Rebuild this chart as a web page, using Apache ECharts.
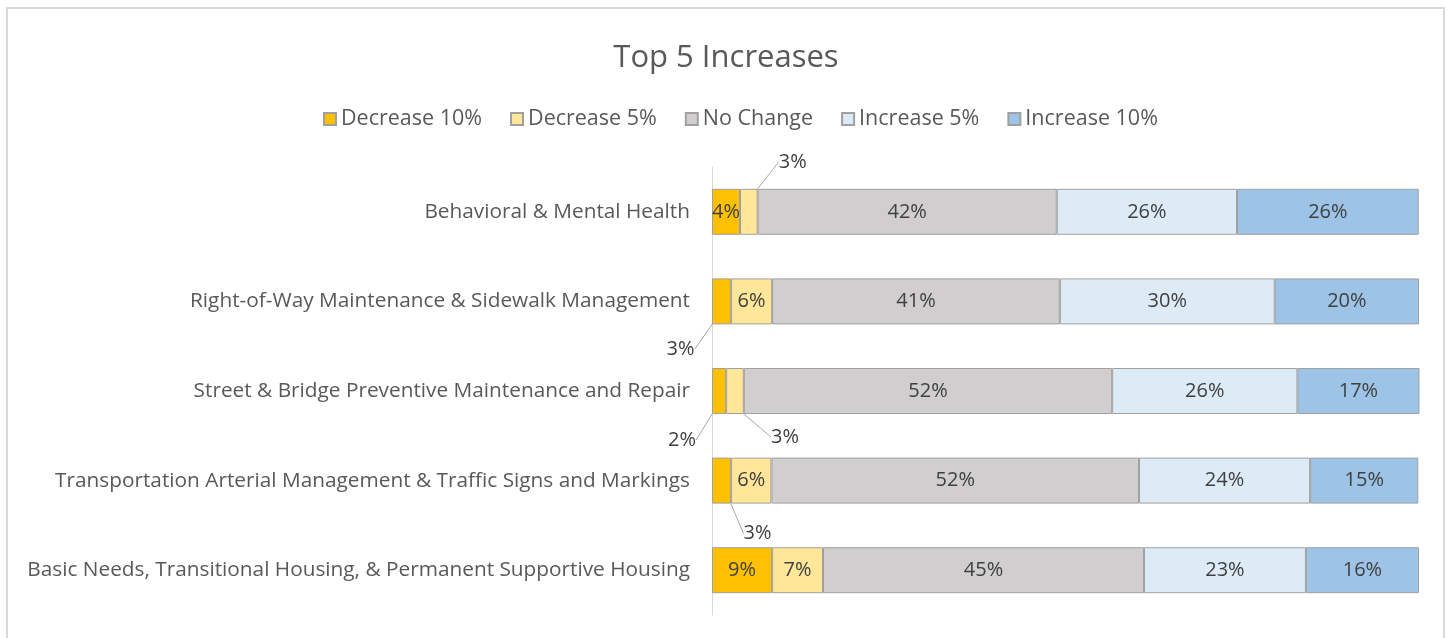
<!DOCTYPE html>
<html lang="en">
<head>
    <meta charset="UTF-8">
    <title>Top 5 Increases</title>
    <style>
        html, body {
            margin: 0;
            padding: 0;
            background: #fff;
        }

        .frame {
            position: absolute;
            left: 6px;
            top: 7px;
            width: 1439px;
            height: 640px;
            border: 2px solid #d9d9d9;
            box-sizing: border-box;
        }

        #chart {
            position: absolute;
            left: 0;
            top: 0;
            width: 1452px;
            height: 638px;
        }
    </style>
</head>
<body>
    <div class="frame"></div>
    <div id="chart"></div>

    <script src="https://cdn.jsdelivr.net/npm/echarts@6/dist/echarts.min.js"></script>
    <script>
        // categories, top to bottom
        const categories = [
            'Behavioral & Mental Health',
            'Right-of-Way Maintenance & Sidewalk Management',
            'Street & Bridge Preventive Maintenance and Repair',
            'Transportation Arterial Management & Traffic Signs and Markings',
            'Basic Needs, Transitional Housing, & Permanent Supportive Housing'
        ];

        const seriesNames = ['Decrease 10%', 'Decrease 5%', 'No Change', 'Increase 5%', 'Increase 10%'];

        // shares in %
        const decrease10 = [3.96, 2.7, 2.0, 2.7, 8.5];
        const decrease5 = [2.5, 5.8, 2.5, 5.7, 7.2];
        const noChange = [42.3, 40.7, 52.1, 52.0, 45.4];
        const increase5 = [25.5, 30.4, 26.2, 24.2, 22.9];
        const increase10 = [25.7, 20.4, 17.3, 15.3, 16.0];

        const colors = ['#ffc000', '#ffe699', '#d0cece', '#ddebf7', '#9dc3e6'];

        // labels that sit outside the bar with a leader line: [series, row, dx, dy]
        const outsideLabels = [
            [1, 0, 44, -50],
            [0, 1, -41, 48],
            [0, 2, -37, 49],
            [1, 2, 50, 46],
            [0, 3, 36, 53]
        ];

        const font = 'Open Sans, Noto Sans, sans-serif';
        const allValues = [decrease10, decrease5, noChange, increase5, increase10];

        function findOutside(s, i) {
            return outsideLabels.find(function (o) { return o[0] === s && o[1] === i; });
        }

        const series = allValues.map(function (vals, s) {
            return {
                name: seriesNames[s],
                type: 'bar',
                stack: 'total',
                barWidth: 46,
                itemStyle: {
                    color: colors[s],
                    borderColor: '#a0a0a0',
                    borderWidth: 1
                },
                label: {
                    show: true,
                    position: 'inside',
                    color: '#404040',
                    fontSize: 20,
                    fontFamily: font,
                    formatter: function (p) { return Math.round(p.value) + '%'; }
                },
                labelLine: {
                    lineStyle: { color: '#a6a6a6', width: 1 }
                },
                labelLayout: function (p) {
                    const o = findOutside(s, p.dataIndex);
                    return o ? { dx: o[2], dy: o[3] } : {};
                },
                emphasis: { disabled: true },
                data: vals.map(function (v, i) {
                    const item = { value: v };
                    if (findOutside(s, i)) {
                        item.labelLine = { show: true, lineStyle: { color: '#a6a6a6', width: 1 } };
                    }
                    return item;
                })
            };
        });

        const chart = echarts.init(document.getElementById('chart'));
        chart.setOption({
            animation: false,
            title: {
                text: 'Top 5 Increases',
                left: 'center',
                top: 38,
                textStyle: {
                    color: '#595959',
                    fontSize: 31,
                    fontWeight: 'normal',
                    fontFamily: font
                }
            },
            legend: {
                top: 103,
                left: 318,
                itemWidth: 12,
                itemHeight: 12,
                itemGap: 28,
                icon: 'rect',
                textStyle: {
                    color: '#595959',
                    fontSize: 21.5,
                    fontFamily: font
                },
                data: seriesNames
            },
            grid: {
                left: 712,
                right: 33,
                top: 167,
                bottom: 23,
                containLabel: false
            },
            xAxis: {
                type: 'value',
                min: 0,
                max: 100,
                show: false
            },
            yAxis: {
                type: 'category',
                inverse: true,
                data: categories,
                axisLine: { show: true, lineStyle: { color: '#d9d9d9', width: 1 } },
                axisTick: { show: false },
                axisLabel: {
                    color: '#595959',
                    fontSize: 20.8,
                    fontFamily: font,
                    margin: 22
                }
            },
            series: series
        });
    </script>
</body>
</html>
